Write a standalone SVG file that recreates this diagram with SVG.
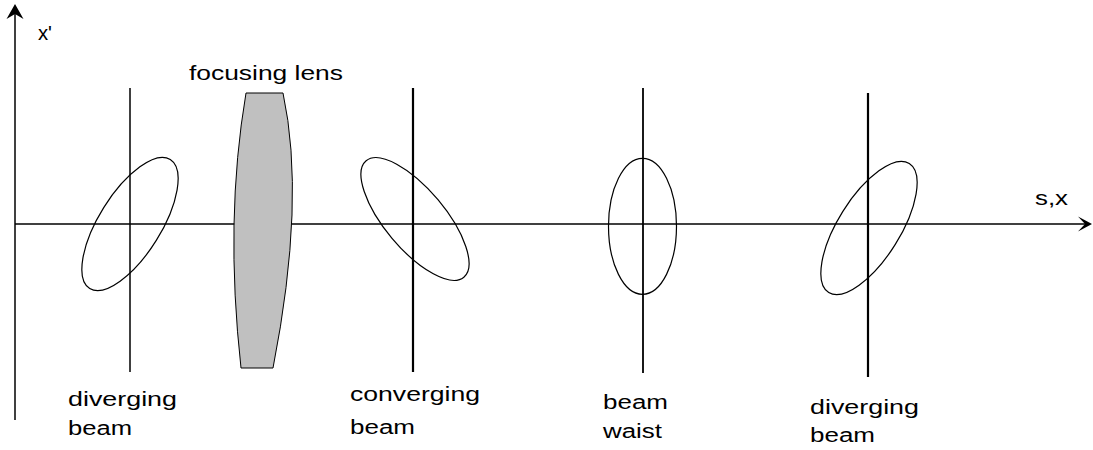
<svg xmlns="http://www.w3.org/2000/svg" width="1093" height="450" viewBox="0 0 1093 450">
<style>
text{font-family:"Liberation Sans",Arial,sans-serif;font-size:20px;fill:#000}
.ax{stroke:#000;stroke-width:1.5;fill:none}
.pl{stroke:#000;fill:none}
.el{stroke:#000;stroke-width:1.2;fill:none}
</style>
<rect width="1093" height="450" fill="#fff"/>
<g id="connectors">
<line class="ax" x1="15" y1="420" x2="15" y2="10" stroke="#333"/>
<polygon points="15,4 23.5,19 15,14 6.5,19" fill="#000"/>
<line class="ax" x1="15" y1="224" x2="1086" y2="224"/>
<polygon points="1092,224 1078,216.5 1085,224 1078,231.5" fill="#000"/>
</g>
<g id="label-xprime"><text x="38" y="40" textLength="14" lengthAdjust="spacingAndGlyphs">x'</text></g>
<g id="label-sx"><text x="1035" y="205" textLength="33" lengthAdjust="spacingAndGlyphs">s,x</text></g>
<g id="lens">
<path d="M246,93 L283,93 Q306,199.5 273,368 L241,368 Q224.5,219.5 246,93 Z" fill="#c0c0c0" stroke="#000" stroke-width="1"/>
<text x="189" y="80" textLength="154" lengthAdjust="spacingAndGlyphs">focusing lens</text>
</g>
<g id="plane1">
<line class="pl" x1="130" y1="88" x2="130" y2="372" stroke-width="1.5"/>
<ellipse class="el" cx="130" cy="224" rx="76" ry="31" transform="rotate(-58 130 224)"/>
<text x="68" y="406" textLength="109" lengthAdjust="spacingAndGlyphs">diverging</text>
<text x="68" y="435" textLength="64" lengthAdjust="spacingAndGlyphs">beam</text>
</g>
<g id="plane2">
<line class="pl" x1="413" y1="88" x2="413" y2="372" stroke-width="2.2"/>
<ellipse class="el" cx="415" cy="219" rx="76" ry="30" transform="rotate(50 415 219)"/>
<text x="350" y="401" textLength="130" lengthAdjust="spacingAndGlyphs">converging</text>
<text x="350" y="434" textLength="65" lengthAdjust="spacingAndGlyphs">beam</text>
</g>
<g id="plane3">
<line class="pl" x1="643" y1="88" x2="643" y2="373" stroke-width="1.8"/>
<ellipse class="el" cx="642.5" cy="226.3" rx="34" ry="68"/>
<text x="603" y="409" textLength="65" lengthAdjust="spacingAndGlyphs">beam</text>
<text x="603" y="438" textLength="59" lengthAdjust="spacingAndGlyphs">waist</text>
</g>
<g id="plane4">
<line class="pl" x1="868" y1="93" x2="868" y2="377" stroke-width="2.2"/>
<ellipse class="el" cx="869" cy="228" rx="76" ry="31" transform="rotate(-58 869 228)"/>
<text x="810" y="414" textLength="109" lengthAdjust="spacingAndGlyphs">diverging</text>
<text x="810" y="442" textLength="65" lengthAdjust="spacingAndGlyphs">beam</text>
</g>
</svg>
